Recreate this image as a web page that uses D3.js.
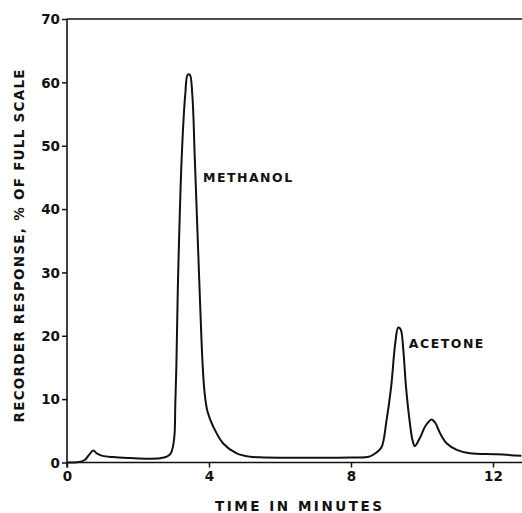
<!DOCTYPE html>
<html>
<head>
<meta charset="utf-8">
<script src="https://cdn.jsdelivr.net/npm/d3@7"></script>
<style>
  html, body { margin: 0; padding: 0; background: #fff; }
  svg { display: block; }
  text { font-family: "DejaVu Sans", "Liberation Sans", sans-serif; font-weight: bold; fill: #111; }
</style>
</head>
<body>
<svg id="chart" width="522" height="513"></svg>
<script>
// ---- data ----
const time = [0, 0.3, 0.5, 0.62, 0.74, 0.85, 1.0, 1.3, 1.8, 2.3, 2.62, 2.81, 2.92, 2.98, 3.03, 3.05, 3.08, 3.12, 3.23, 3.33, 3.40, 3.46, 3.53, 3.6, 3.75, 3.82, 3.88, 3.96, 4.12, 4.4, 4.78, 5.15, 5.44, 6.0, 7.0, 8.0, 8.5, 8.7, 8.86, 9.0, 9.13, 9.25, 9.33, 9.40, 9.47, 9.55, 9.65, 9.73, 9.80, 9.95, 10.1, 10.27, 10.38, 10.51, 10.70, 10.98, 11.35, 12.1, 12.8];
const response = [0, 0.05, 0.4, 1.2, 1.9, 1.4, 1.05, 0.85, 0.7, 0.6, 0.66, 0.92, 1.4, 2.4, 4.5, 9, 15, 27, 48, 58, 61.2, 61.2, 58, 48, 25, 15.5, 10.8, 8.0, 5.65, 3.0, 1.45, 0.92, 0.82, 0.75, 0.75, 0.8, 0.9, 1.5, 2.4, 6.6, 11.9, 19, 21.3, 21.0, 18, 11.9, 6.6, 3.6, 2.6, 4.0, 5.8, 6.8, 6.2, 4.6, 3.0, 2.0, 1.45, 1.3, 1.05];
const xTicks = [0, 4, 8, 12];
const yTicks = [0, 10, 20, 30, 40, 50, 60, 70];
const peakLabels = ["METHANOL", "ACETONE"];
const peakTimes = [3.83, 9.63];
const peakValues = [44.2, 18.1];
const xTitle = "TIME IN MINUTES";
const yTitle = "RECORDER RESPONSE, % OF FULL SCALE";

// ---- layout ----
const svg = d3.select("#chart");
const W = 522, H = 513;
const x0 = 67, y0 = 462.5, yTop = 19;
const pxPerMin = (493 - 67) / 12;
const x = d3.scaleLinear().domain([0, (W - x0) / pxPerMin]).range([x0, W]);
const y = d3.scaleLinear().domain([0, 70]).range([y0, yTop]);
const ink = "#111";

// y axis
const yAxis = d3.axisLeft(y).tickValues(yTicks).tickSize(5).tickPadding(2).tickSizeOuter(0);
const gy = svg.append("g").attr("transform", `translate(${x0},0)`).call(yAxis);
gy.select(".domain").remove();
gy.selectAll(".tick line").attr("stroke", ink).attr("stroke-width", 1.5);
gy.selectAll(".tick text").style("font-size", "13.5px").attr("dy", "0.35em").attr("fill", ink);
svg.append("line").attr("x1", x0).attr("x2", x0).attr("y1", yTop).attr("y2", y0 + 5)
  .attr("stroke", ink).attr("stroke-width", 1.6);

// x axis
const xAxis = d3.axisBottom(x).tickValues(xTicks).tickSize(5).tickPadding(4).tickSizeOuter(0);
const gx = svg.append("g").attr("transform", `translate(0,${y0})`).call(xAxis);
gx.select(".domain").remove();
gx.selectAll(".tick line").attr("stroke", ink).attr("stroke-width", 1.5);
gx.selectAll(".tick text").style("font-size", "13.5px").attr("fill", ink);
svg.append("line").attr("x1", x0).attr("x2", W).attr("y1", y0).attr("y2", y0)
  .attr("stroke", ink).attr("stroke-width", 1.6);

// top frame line
svg.append("line").attr("x1", x0).attr("x2", W).attr("y1", y(70)).attr("y2", y(70))
  .attr("stroke", ink).attr("stroke-width", 1.4);

// curve
const pts = time.map((t, i) => [t, response[i]]);
svg.append("path").datum(pts)
  .attr("fill", "none").attr("stroke", ink).attr("stroke-width", 2)
  .attr("stroke-linejoin", "round")
  .attr("d", d3.line().x(d => x(d[0])).y(d => y(d[1])).curve(d3.curveCatmullRom.alpha(0.5)));

// peak labels
svg.selectAll(".plabel").data(peakLabels).enter().append("text")
  .attr("class", "plabel")
  .attr("x", (d, i) => x(peakTimes[i]))
  .attr("y", (d, i) => y(peakValues[i]))
  .style("font-size", "12.5px").style("letter-spacing", "1.5px")
  .text(d => d);

// axis titles
svg.append("text").attr("x", 298.5).attr("y", 511).attr("text-anchor", "middle")
  .style("font-size", "13.5px")
  .attr("textLength", 167).attr("lengthAdjust", "spacing")
  .text(xTitle);
svg.append("text").attr("transform", "translate(24,246) rotate(-90)").attr("text-anchor", "middle")
  .style("font-size", "13.5px")
  .attr("textLength", 353).attr("lengthAdjust", "spacing")
  .text(yTitle);
</script>
</body>
</html>
